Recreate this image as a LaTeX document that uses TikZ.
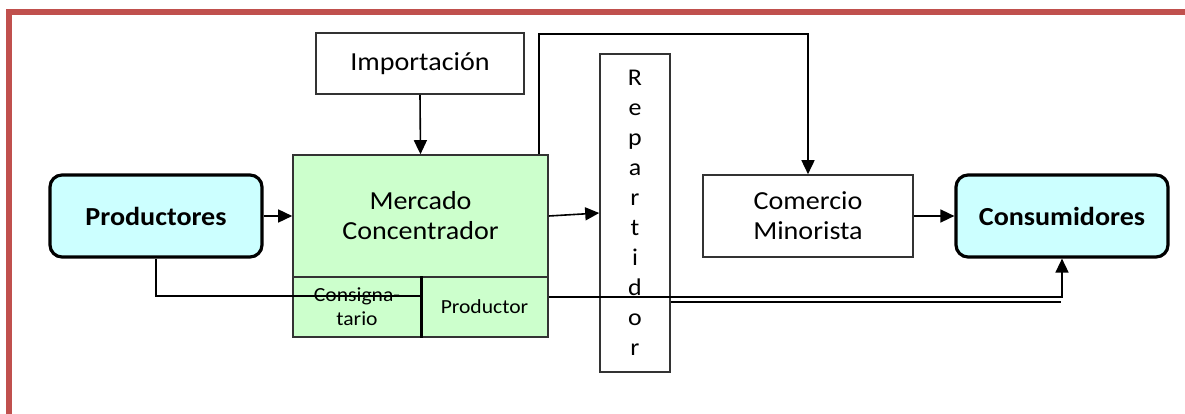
\documentclass[tikz,border=0pt]{standalone}
\usepackage{fontspec}
\setmainfont{Carlito}[FakeStretch=1.08]
\usepackage{tikz}
\usetikzlibrary{arrows.meta,calc}
\definecolor{framered}{HTML}{C0504D}
\definecolor{cyanfill}{HTML}{CCFFFF}
\definecolor{greenfill}{HTML}{CCFFCC}
\definecolor{edgegray}{HTML}{333333}

\begin{document}
\begin{tikzpicture}[x=1pt, y=-1pt,
    box/.style={draw=edgegray, line width=1.6pt, inner sep=0pt, align=center,
        font=\fontsize{26}{30}\selectfont},
    endbox/.style={box, draw=black, line width=3.2pt, rounded corners=12pt,
        fill=cyanfill, font=\fontsize{26}{30}\selectfont\bfseries},
    mbox/.style={box, fill=greenfill},
    smallbox/.style={mbox, font=\fontsize{20}{24}\selectfont},
    arr/.style={-{Triangle[length=14pt,width=13pt]}, line width=1.6pt},
    ln/.style={line width=1.6pt}]
    \useasboundingbox (0,0) rectangle (1185,414);

    % red frame
    \draw[framered, line width=6pt] (9,420) -- (9,12.5) -- (1192,12.5);

    % boxes
    \node[endbox, minimum width=212, minimum height=82] (prod) at (156,216) {Productores};
    \node[mbox, minimum width=255, minimum height=122] (merctop) at (420.5,216) {Mercado\\Concentrador};
    \node[smallbox, minimum width=128, minimum height=60] (consig) at (357,307) {Consigna-\\tario};
    \node[smallbox, minimum width=127, minimum height=60] (produc) at (484.5,307) {Productor};
    \node[box, minimum width=208, minimum height=61] (imp) at (420,63.5) {Importación};
    \node[box, minimum width=70, minimum height=318, font=\fontsize{24}{30}\selectfont] (rep) at (635,213)
        {R\\e\\p\\a\\r\\t\\i\\d\\o\\r};
    \node[box, minimum width=210, minimum height=82] (com) at (808,216) {Comercio\\Minorista};
    \node[endbox, minimum width=212, minimum height=82] (cons) at (1062,216) {Consumidores};
    \draw[line width=3pt] (consig.north east) -- (consig.south east);

    % arrows between boxes
    \foreach \a/\b in {prod.east/merctop.west, imp.south/merctop.north,
        merctop.east/rep.west, com.east/cons.west}
    {
        \draw[arr] (\a) -- (\b);
    }

    % long lines
    \coordinate (topc) at (539,34);
    \coordinate (dbl) at (1061,302);
    \draw[arr] (merctop.north -| topc) -- (topc) -| (com.north);
    \draw[ln] (prod.south) |- ($(consig.east)+(0,-11)$);
    \draw[arr] ($(produc.east)+(0,-10)$) -| (cons.south);
    \draw[ln] (rep.east |- dbl) -- (dbl);
\end{tikzpicture}
\end{document}
